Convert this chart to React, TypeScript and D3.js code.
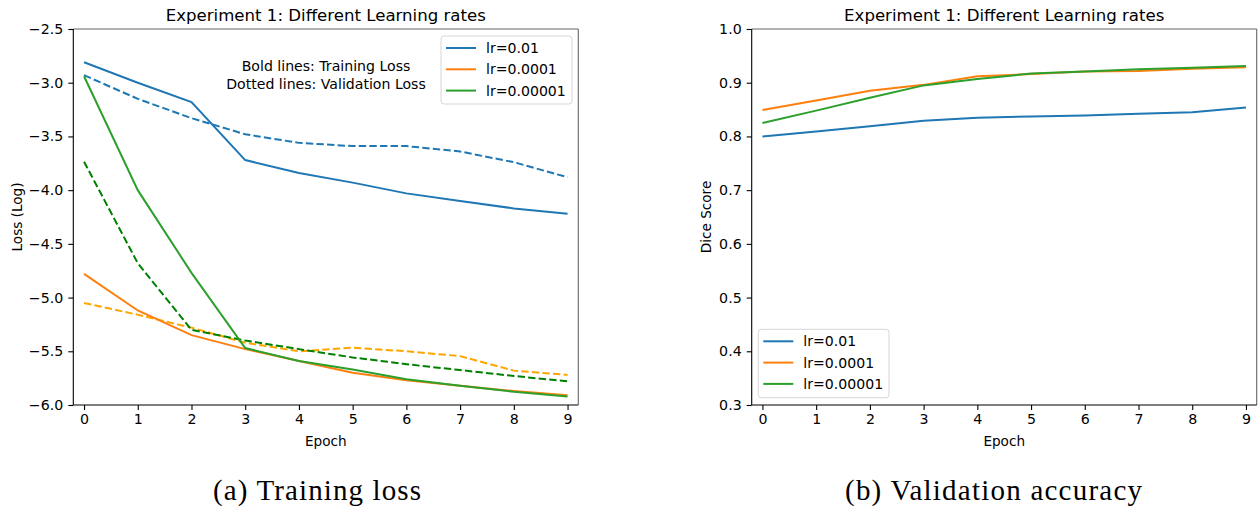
import React, { useEffect, useRef } from 'react';
import * as d3 from 'd3';

const epochs = [0, 1, 2, 3, 4, 5, 6, 7, 8, 9];
const seriesNames = ['lr=0.01', 'lr=0.0001', 'lr=0.00001'];

// training loss (log), solid lines
const trainLoss01 = [-2.81, -3.0, -3.18, -3.72, -3.84, -3.93, -4.03, -4.1, -4.17, -4.22];
const trainLoss0001 = [-4.78, -5.12, -5.35, -5.48, -5.59, -5.7, -5.77, -5.82, -5.87, -5.91];
const trainLoss00001 = [-2.94, -4.0, -4.77, -5.47, -5.59, -5.67, -5.76, -5.82, -5.877, -5.92];

// validation loss (log), dashed lines
const valLoss01 = [-2.93, -3.15, -3.33, -3.48, -3.56, -3.59, -3.59, -3.64, -3.74, -3.88];
const valLoss0001 = [-5.05, -5.16, -5.28, -5.42, -5.5, -5.467, -5.5, -5.545, -5.68, -5.72];
const valLoss00001 = [-3.735, -4.68, -5.3, -5.4, -5.48, -5.557, -5.62, -5.675, -5.73, -5.78];

// validation dice score
const dice01 = [0.8, 0.809, 0.819, 0.829, 0.835, 0.837, 0.839, 0.842, 0.845, 0.854];
const dice0001 = [0.849, 0.867, 0.885, 0.896, 0.912, 0.916, 0.921, 0.922, 0.926, 0.929];
const dice00001 = [0.825, 0.848, 0.872, 0.895, 0.907, 0.917, 0.921, 0.925, 0.928, 0.931];

const lossTicks = [-2.5, -3.0, -3.5, -4.0, -4.5, -5.0, -5.5, -6.0];
const diceTicks = [0.3, 0.4, 0.5, 0.6, 0.7, 0.8, 0.9, 1.0];

const colors = ['#1f77b4', '#ff7f0e', '#2ca02c'];
const dashColors = ['#1f77b4', '#ffa500', '#008000'];

const FONT = 'DejaVu Sans, sans-serif';

function App() {
  const svgRef = useRef<SVGSVGElement>(null);

  useEffect(() => {
    const svg = d3.select(svgRef.current);
    svg.selectAll('*').remove();

    const width = 1259;
    const height = 509;
    svg.attr('width', width).attr('height', height);

    const drawPanel = (opts: any) => {
      const { left, right, top, bottom, yDomain, yTicks, yFmt, yLabel, ylabelX, solid, dashed, caption, captionX, captionW } = opts;
      const x = d3.scaleLinear().domain([-0.2, 9.2]).range([left, right]);
      const y = d3.scaleLinear().domain(yDomain).range([bottom, top]);
      const g = svg.append('g');

      // title
      g.append('text')
        .attr('x', (left + right) / 2).attr('y', 21)
        .attr('text-anchor', 'middle')
        .attr('font-family', FONT).attr('font-size', 16.6)
        .text('Experiment 1: Different Learning rates');

      const line = d3.line<number>()
        .x((d, i) => x(epochs[i]))
        .y(d => y(d));

      dashed.forEach((s: number[], i: number) => {
        g.append('path')
          .datum(s)
          .attr('fill', 'none')
          .attr('stroke', dashColors[i])
          .attr('stroke-width', 2)
          .attr('stroke-dasharray', '7.4 3.2')
          .attr('d', line);
      });
      solid.forEach((s: number[], i: number) => {
        g.append('path')
          .datum(s)
          .attr('fill', 'none')
          .attr('stroke', colors[i])
          .attr('stroke-width', 2)
          .attr('d', line);
      });

      // spines
      g.append('line').attr('x1', left).attr('x2', right).attr('y1', top).attr('y2', top)
        .attr('stroke', '#666').attr('stroke-width', 1.1);
      g.append('line').attr('x1', right).attr('x2', right).attr('y1', top).attr('y2', bottom)
        .attr('stroke', '#666').attr('stroke-width', 1.1);

      const xAxis = g.append('g')
        .attr('transform', `translate(0,${bottom})`)
        .call(d3.axisBottom(x).tickValues(epochs).tickFormat(d3.format('d')).tickSize(5).tickPadding(4));
      const yAxis = g.append('g')
        .attr('transform', `translate(${left},0)`)
        .call(d3.axisLeft(y).tickValues(yTicks).tickFormat(yFmt).tickSize(5).tickPadding(5));

      [xAxis, yAxis].forEach(a => {
        a.select('.domain').attr('stroke', '#000').attr('stroke-width', 1.1);
        a.selectAll('.tick line').attr('stroke', '#000').attr('stroke-width', 1.1);
        a.selectAll('.tick text').attr('font-family', FONT).attr('font-size', 14.2).attr('fill', '#000');
      });
      xAxis.selectAll('.domain').attr('d', `M${left},0H${right}`);
      yAxis.selectAll('.domain').attr('d', `M0,${bottom}V${top}`);

      g.append('text')
        .attr('x', (left + right) / 2).attr('y', 446)
        .attr('text-anchor', 'middle')
        .attr('font-family', FONT).attr('font-size', 13.6)
        .text('Epoch');

      g.append('text')
        .attr('transform', `translate(${ylabelX},${(top + bottom) / 2}) rotate(-90)`)
        .attr('text-anchor', 'middle')
        .attr('font-family', FONT).attr('font-size', 13.6)
        .text(yLabel);

      g.append('text')
        .attr('x', captionX).attr('y', 500)
        .attr('text-anchor', 'middle')
        .attr('font-family', 'Liberation Serif, serif').attr('font-size', 29)
        .attr('textLength', captionW).attr('lengthAdjust', 'spacing')
        .text(caption);

      return g;
    };

    const legend = (g: any, bx: number, by: number, bw: number, bh: number) => {
      g.append('rect')
        .attr('x', bx).attr('y', by).attr('width', bw).attr('height', bh)
        .attr('rx', 3).attr('fill', '#fff').attr('fill-opacity', 0.8)
        .attr('stroke', '#d6d6d6').attr('stroke-width', 1);
      seriesNames.forEach((name, i) => {
        const cy = by + 12 + i * 21.3;
        g.append('line')
          .attr('x1', bx + 5).attr('x2', bx + 35).attr('y1', cy).attr('y2', cy)
          .attr('stroke', colors[i]).attr('stroke-width', 2);
        g.append('text')
          .attr('x', bx + 45).attr('y', cy).attr('dy', '0.36em')
          .attr('font-family', FONT).attr('font-size', 14.1)
          .text(name);
      });
    };

    const left1 = drawPanel({
      left: 73.3, right: 578.3, top: 29, bottom: 405,
      yDomain: [-6.0, -2.5], yTicks: lossTicks, yFmt: (d: number) => d3.format('.1f')(d).replace('-', '\u2212'),
      yLabel: 'Loss (Log)', ylabelX: 22,
      solid: [trainLoss01, trainLoss0001, trainLoss00001],
      dashed: [valLoss01, valLoss0001, valLoss00001],
      caption: '(a) Training loss', captionX: 317, captionW: 208,
    });
    legend(left1, 441, 36, 131, 68);
    left1.append('text')
      .attr('x', 326).attr('y', 65.7).attr('dy', '0.36em')
      .attr('text-anchor', 'middle')
      .attr('font-family', FONT).attr('font-size', 14.1)
      .text('Bold lines: Training Loss');
    left1.append('text')
      .attr('x', 326).attr('y', 84.3).attr('dy', '0.36em')
      .attr('text-anchor', 'middle')
      .attr('font-family', FONT).attr('font-size', 14.1)
      .text('Dotted lines: Validation Loss');

    const right1 = drawPanel({
      left: 751.7, right: 1256.7, top: 29, bottom: 405,
      yDomain: [0.3, 1.0], yTicks: diceTicks, yFmt: d3.format('.1f'),
      yLabel: 'Dice Score', ylabelX: 711,
      solid: [dice01, dice0001, dice00001],
      dashed: [],
      caption: '(b) Validation accuracy', captionX: 993.5, captionW: 297,
    });
    legend(right1, 758.3, 329.3, 130.7, 68.4);
  }, []);

  return <svg ref={svgRef} style={{ position: 'absolute', left: 0, top: 0, background: '#fff' }}></svg>;
}

export default App;
